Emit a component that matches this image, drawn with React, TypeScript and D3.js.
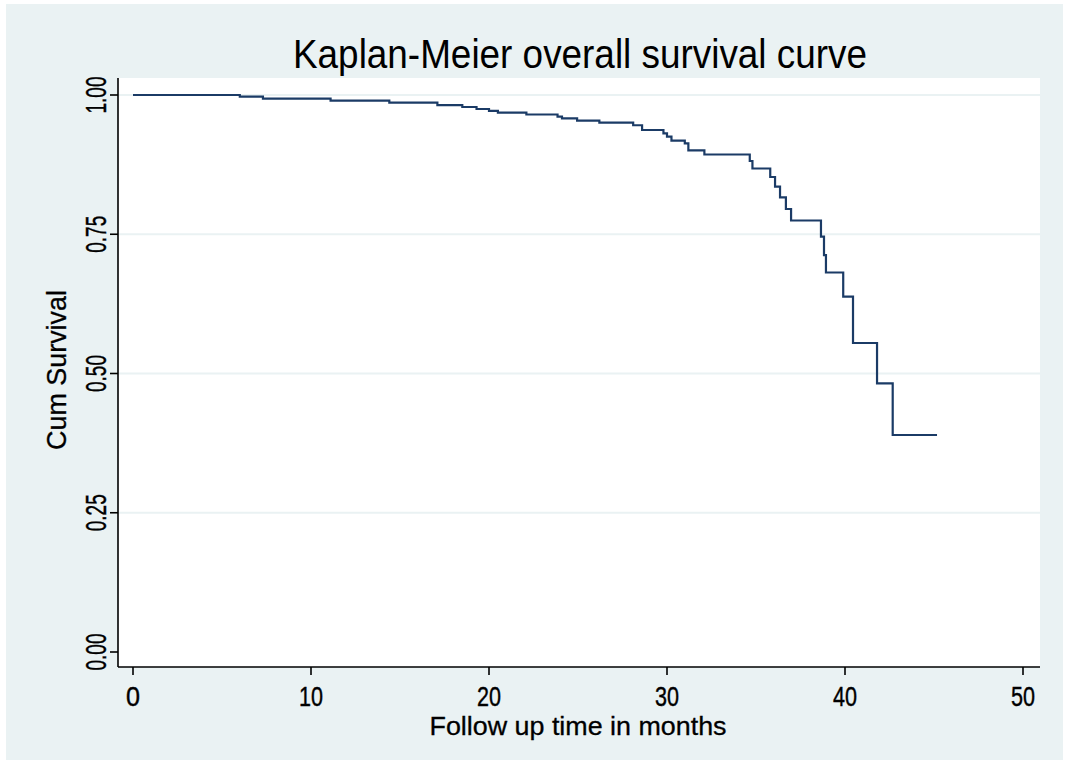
import React from "react";
import * as d3 from "d3";

const title = "Kaplan-Meier overall survival curve";
const xLabel = "Follow up time in months";
const yLabel = "Cum Survival";
const xTicks = [0, 10, 20, 30, 40, 50];
const yTicks = [0, 0.25, 0.5, 0.75, 1.0];
const gridValues = [0.25, 0.5, 0.75, 1.0];

// Kaplan-Meier step points: time (months) and survival after the step
const times = [
  0, 6.0, 7.3, 11.1, 14.4, 17.1, 18.5, 19.3, 20.0, 20.5, 22.1, 23.85, 24.1,
  24.95, 26.2, 28.1, 28.6, 29.8, 30.0, 30.25, 31.0, 31.2, 32.1, 34.65, 34.8,
  35.8, 36.07, 36.35, 36.68, 36.97, 38.65, 38.82, 38.93, 39.9, 40.45, 41.8,
  42.68, 45.17,
];
const survival = [
  1.0, 0.997, 0.9934, 0.9898, 0.9862, 0.982, 0.9785, 0.9749, 0.9716, 0.9683,
  0.965, 0.961, 0.958, 0.9539, 0.9503, 0.9457, 0.9372, 0.931, 0.9251, 0.918,
  0.9133, 0.9007, 0.8932, 0.8815, 0.868, 0.8528, 0.8354, 0.8163, 0.7953,
  0.7747, 0.7456, 0.7127, 0.6813, 0.6379, 0.5548, 0.4824, 0.3896, 0.3896,
];

const W = 1069;
const H = 765;
const FONT = "'Liberation Sans', Arial, Helvetica, sans-serif";

export default function App() {
  const x = d3.scaleLinear().domain([0, 50]).range([133, 1023]);
  const y = d3.scaleLinear().domain([0, 1]).range([652, 95]);
  const plotLeft = 118;
  const plotRight = 1040;
  const plotTop = 78;
  const plotBottom = 667;

  const pts = times.map((t, i) => [t, survival[i]] as [number, number]);
  const line = d3
    .line<[number, number]>()
    .x((d) => x(d[0]))
    .y((d) => y(d[1]))
    .curve(d3.curveStepAfter);

  const labelLen = (s: string) => (s.length === 1 ? 14 : 24);

  return (
    <svg
      width={W}
      height={H}
      style={{ position: "absolute", left: 0, top: 0, background: "#ffffff" }}
      fontFamily={FONT}
    >
      <rect x={6} y={4} width={1057} height={756} fill="#EAF2F3" />
      <rect
        x={plotLeft}
        y={plotTop}
        width={plotRight - plotLeft}
        height={plotBottom - plotTop}
        fill="#ffffff"
      />
      {gridValues.map((v) => (
        <line
          key={v}
          x1={plotLeft}
          x2={plotRight}
          y1={y(v)}
          y2={y(v)}
          stroke="#EAF2F3"
          strokeWidth={2}
        />
      ))}
      <path
        d={line(pts) || ""}
        fill="none"
        stroke="#1b3b66"
        strokeWidth={2.2}
      />
      {/* axes */}
      <line x1={plotLeft} x2={plotLeft} y1={plotTop} y2={plotBottom} stroke="#000" strokeWidth={1.6} />
      <line x1={plotLeft} x2={plotRight} y1={plotBottom} y2={plotBottom} stroke="#000" strokeWidth={1.6} />
      {yTicks.map((v) => (
        <g key={v}>
          <line x1={plotLeft - 8} x2={plotLeft} y1={y(v)} y2={y(v)} stroke="#000" strokeWidth={1.6} />
          <text
            transform={`translate(106,${y(v)}) rotate(-90)`}
            textAnchor="middle"
            fontSize={30}
            textLength={37}
            lengthAdjust="spacingAndGlyphs"
            fill="#000"
            stroke="#000"
            strokeWidth={0.4}
          >
            {v.toFixed(2)}
          </text>
        </g>
      ))}
      {xTicks.map((v) => (
        <g key={v}>
          <line x1={x(v)} x2={x(v)} y1={plotBottom} y2={plotBottom + 8} stroke="#000" strokeWidth={1.6} />
          <text
            x={x(v)}
            y={706}
            textAnchor="middle"
            fontSize={27}
            textLength={labelLen(String(v))}
            lengthAdjust="spacingAndGlyphs"
            fill="#000"
            stroke="#000"
            strokeWidth={0.4}
          >
            {v}
          </text>
        </g>
      ))}
      <text
        x={578}
        y={735}
        textAnchor="middle"
        fontSize={26}
        textLength={297}
        lengthAdjust="spacingAndGlyphs"
        fill="#000"
        stroke="#000"
        strokeWidth={0.3}
      >
        {xLabel}
      </text>
      <text
        transform={`translate(66,370) rotate(-90)`}
        textAnchor="middle"
        fontSize={28}
        textLength={160}
        lengthAdjust="spacingAndGlyphs"
        fill="#000"
        stroke="#000"
        strokeWidth={0.3}
      >
        {yLabel}
      </text>
      <text
        x={580}
        y={68}
        textAnchor="middle"
        fontSize={40}
        textLength={574}
        lengthAdjust="spacingAndGlyphs"
        fill="#000"
      >
        {title}
      </text>
    </svg>
  );
}
